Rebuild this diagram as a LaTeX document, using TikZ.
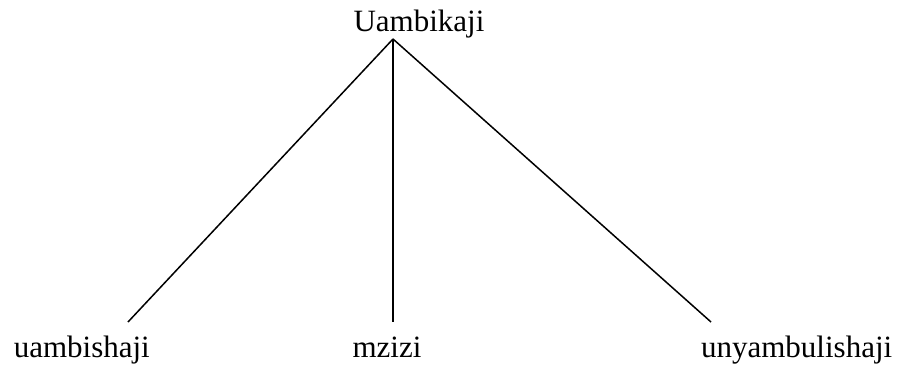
\documentclass[tikz,border=0pt]{standalone}
\usepackage{fontspec}
\setmainfont{Liberation Serif}
\usepackage{tikz}

\begin{document}
\begin{tikzpicture}[x=1pt,y=-1pt,line width=1.5pt,
    every node/.style={font=\fontsize{31}{31}\selectfont,inner sep=0pt}]
          \useasboundingbox (0,0) rectangle (899,369);
          \node[anchor=base] (root) at (419,32) {Uambikaji};
          \node[anchor=base west] (uamb) at (13,357) {uambishaji};
          \node[anchor=base] (mzizi) at (387,357) {mzizi};
          \node[anchor=base east] (unya) at (893,357) {unyambulishaji};
          \coordinate (apex) at (393,39);
          \coordinate (uambtop) at (128,322);
          \coordinate (mzizitop) at (393,322);
          \coordinate (unyatop) at (711,322);
          \draw (apex) -- (uambtop);
          \draw (apex) -- (mzizitop);
          \draw (apex) -- (unyatop);
        \end{tikzpicture}
\end{document}
